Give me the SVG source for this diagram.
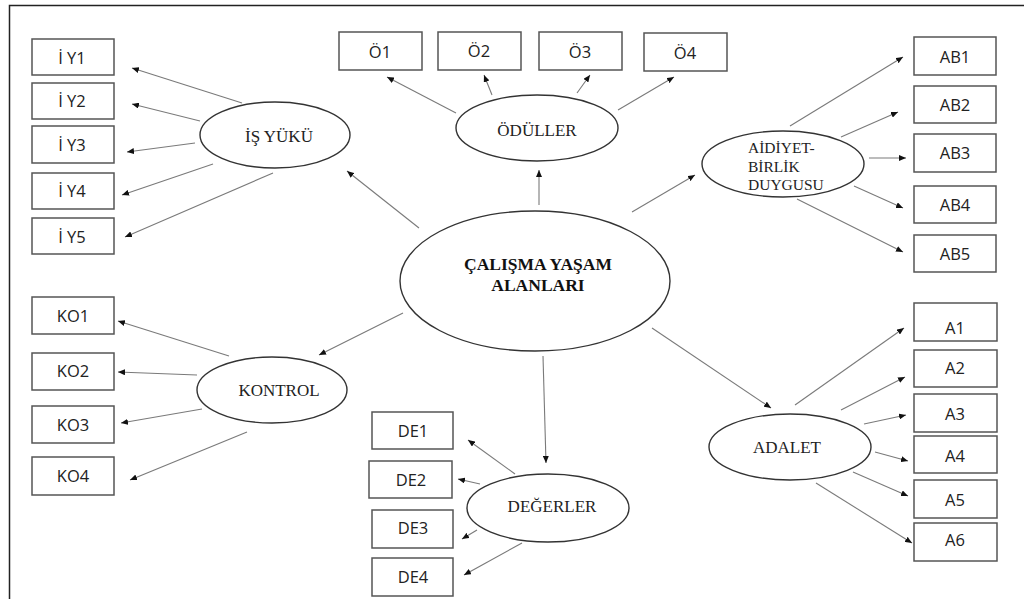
<svg xmlns="http://www.w3.org/2000/svg" width="1024" height="599" viewBox="0 0 1024 599">
  <style>
    .box { fill: #fff; stroke: #555; stroke-width: 1.5; }
    .ell { fill: #fff; stroke: #333; stroke-width: 1.4; }
    .lbl { font-family: "Open Sans", "Liberation Sans", sans-serif; font-size: 16.5px; fill: #222; text-anchor: middle; }
    .fac { font-family: "Liberation Serif", "Times New Roman", serif; font-size: 17px; fill: #222; text-anchor: middle; }
    .fac3 { font-family: "Liberation Serif", "Times New Roman", serif; font-size: 15.5px; fill: #222; }
    .main { font-family: "Liberation Serif", "Times New Roman", serif; font-size: 17.5px; font-weight: bold; fill: #111; text-anchor: middle; }
    .edge { stroke: #7a7a7a; stroke-width: 1.1; fill: none; marker-end: url(#arr); }
    .frame { stroke: #222; stroke-width: 1.5; fill: none; }
  </style>
  <defs>
    <marker id="arr" markerUnits="userSpaceOnUse" markerWidth="8" markerHeight="6" refX="7" refY="3" orient="auto">
      <path d="M0,0 L7,3 L0,6 z" fill="#111"/>
    </marker>
  </defs>

  <rect width="1024" height="599" fill="#fff"/>
  <path class="frame" d="M9.5,599 V5.5 H1024"/>

  <!-- connectors -->
  <g id="connectors">
    <!-- central construct to sub-dimensions -->
    <line class="edge" x1="419" y1="228" x2="347" y2="171"/>
    <line class="edge" x1="539" y1="205" x2="539" y2="170"/>
    <line class="edge" x1="632" y1="212" x2="695" y2="175"/>
    <line class="edge" x1="403" y1="313" x2="319" y2="355"/>
    <line class="edge" x1="543" y1="356" x2="546" y2="463"/>
    <line class="edge" x1="652" y1="328" x2="771" y2="408"/>
    <!-- İŞ YÜKÜ items -->
    <line class="edge" x1="242" y1="103" x2="132" y2="68"/>
    <line class="edge" x1="200" y1="121" x2="132" y2="104"/>
    <line class="edge" x1="195" y1="143" x2="127" y2="152"/>
    <line class="edge" x1="213" y1="164" x2="122" y2="195"/>
    <line class="edge" x1="273" y1="173" x2="125" y2="237"/>
    <!-- ÖDÜLLER items -->
    <line class="edge" x1="456" y1="113" x2="387" y2="77"/>
    <line class="edge" x1="492" y1="95" x2="484" y2="75"/>
    <line class="edge" x1="577" y1="93" x2="590" y2="75"/>
    <line class="edge" x1="618" y1="110" x2="674" y2="77"/>
    <!-- AİDİYET-BİRLİK DUYGUSU items -->
    <line class="edge" x1="790" y1="126" x2="903" y2="57"/>
    <line class="edge" x1="841" y1="137" x2="898" y2="112"/>
    <line class="edge" x1="869" y1="158" x2="906" y2="158"/>
    <line class="edge" x1="854" y1="186" x2="903" y2="208"/>
    <line class="edge" x1="797" y1="199" x2="903" y2="252"/>
    <!-- KONTROL items -->
    <line class="edge" x1="229" y1="356" x2="118" y2="321"/>
    <line class="edge" x1="197" y1="375" x2="118" y2="372"/>
    <line class="edge" x1="202" y1="409" x2="121" y2="423"/>
    <line class="edge" x1="247" y1="432" x2="130" y2="480"/>
    <!-- DEĞERLER items -->
    <line class="edge" x1="515" y1="474" x2="468" y2="440"/>
    <line class="edge" x1="480" y1="484" x2="458" y2="479"/>
    <line class="edge" x1="477" y1="530" x2="462" y2="539"/>
    <line class="edge" x1="522" y1="543" x2="464" y2="575"/>
    <!-- ADALET items -->
    <line class="edge" x1="795" y1="405" x2="904" y2="328"/>
    <line class="edge" x1="841" y1="410" x2="905" y2="377"/>
    <line class="edge" x1="864" y1="424" x2="906" y2="415"/>
    <line class="edge" x1="875" y1="452" x2="908" y2="461"/>
    <line class="edge" x1="853" y1="472" x2="908" y2="496"/>
    <line class="edge" x1="816" y1="483" x2="912" y2="543"/>
  </g>

  <!-- central construct -->
  <g id="calisma">
    <ellipse class="ell" cx="535" cy="281" rx="135" ry="70"/>
    <text class="main" x="538" y="270">ÇALIŞMA YAŞAM</text>
    <text class="main" x="538" y="291">ALANLARI</text>
  </g>

  <!-- sub-dimensions -->
  <g id="isyuku">
    <ellipse class="ell" cx="275" cy="135" rx="75" ry="33"/>
    <text class="fac" x="279" y="142">İŞ YÜKÜ</text>
  </g>
  <g id="oduller">
    <ellipse class="ell" cx="537" cy="128" rx="81" ry="33"/>
    <text class="fac" x="537" y="136">ÖDÜLLER</text>
  </g>
  <g id="aidiyet">
    <ellipse class="ell" cx="783" cy="164" rx="81" ry="33"/>
    <text class="fac3" x="748" y="153">AİDİYET-</text>
    <text class="fac3" x="748" y="172">BİRLİK</text>
    <text class="fac3" x="748" y="190">DUYGUSU</text>
  </g>
  <g id="kontrol">
    <ellipse class="ell" cx="272" cy="390" rx="75" ry="33"/>
    <text class="fac" x="279" y="396">KONTROL</text>
  </g>
  <g id="degerler">
    <ellipse class="ell" cx="548" cy="508" rx="81" ry="34"/>
    <text class="fac" x="552" y="512">DEĞERLER</text>
  </g>
  <g id="adalet">
    <ellipse class="ell" cx="790" cy="447" rx="81" ry="33"/>
    <text class="fac" x="787" y="453">ADALET</text>
  </g>

  <!-- observed items -->
  <g id="iy1"><rect class="box" x="32" y="39" width="82" height="36"/><text class="lbl" x="72" y="64">İ Y1</text></g>
  <g id="iy2"><rect class="box" x="32" y="83" width="82" height="36"/><text class="lbl" x="72" y="107">İ Y2</text></g>
  <g id="iy3"><rect class="box" x="32" y="126" width="82" height="37"/><text class="lbl" x="72" y="151">İ Y3</text></g>
  <g id="iy4"><rect class="box" x="32" y="173" width="82" height="36"/><text class="lbl" x="72" y="197">İ Y4</text></g>
  <g id="iy5"><rect class="box" x="32" y="218" width="82" height="36"/><text class="lbl" x="72" y="243">İ Y5</text></g>

  <g id="o1"><rect class="box" x="339" y="32" width="83" height="38"/><text class="lbl" x="380" y="58">Ö1</text></g>
  <g id="o2"><rect class="box" x="438" y="32" width="83" height="38"/><text class="lbl" x="479" y="57">Ö2</text></g>
  <g id="o3"><rect class="box" x="539" y="32" width="83" height="38"/><text class="lbl" x="580" y="58">Ö3</text></g>
  <g id="o4"><rect class="box" x="644" y="33" width="83" height="38"/><text class="lbl" x="685" y="59">Ö4</text></g>

  <g id="ab1"><rect class="box" x="914" y="37" width="82" height="38"/><text class="lbl" x="955" y="63">AB1</text></g>
  <g id="ab2"><rect class="box" x="914" y="86" width="82" height="37"/><text class="lbl" x="955" y="111">AB2</text></g>
  <g id="ab3"><rect class="box" x="914" y="134" width="82" height="38"/><text class="lbl" x="955" y="159">AB3</text></g>
  <g id="ab4"><rect class="box" x="914" y="186" width="82" height="37"/><text class="lbl" x="955" y="211">AB4</text></g>
  <g id="ab5"><rect class="box" x="914" y="235" width="82" height="37"/><text class="lbl" x="955" y="260">AB5</text></g>

  <g id="ko1"><rect class="box" x="32" y="297" width="82" height="37"/><text class="lbl" x="73" y="322">KO1</text></g>
  <g id="ko2"><rect class="box" x="32" y="353" width="82" height="37"/><text class="lbl" x="73" y="377">KO2</text></g>
  <g id="ko3"><rect class="box" x="32" y="406" width="82" height="37"/><text class="lbl" x="73" y="431">KO3</text></g>
  <g id="ko4"><rect class="box" x="32" y="457" width="82" height="38"/><text class="lbl" x="73" y="482">KO4</text></g>

  <g id="de1"><rect class="box" x="372" y="412" width="81" height="37"/><text class="lbl" x="413" y="437">DE1</text></g>
  <g id="de2"><rect class="box" x="369" y="461" width="83" height="37"/><text class="lbl" x="411" y="486">DE2</text></g>
  <g id="de3"><rect class="box" x="372" y="510" width="81" height="38"/><text class="lbl" x="413" y="534">DE3</text></g>
  <g id="de4"><rect class="box" x="372" y="558" width="81" height="38"/><text class="lbl" x="413" y="583">DE4</text></g>

  <g id="a1"><rect class="box" x="914" y="303" width="83" height="38"/><text class="lbl" x="955" y="334">A1</text></g>
  <g id="a2"><rect class="box" x="914" y="350" width="83" height="37"/><text class="lbl" x="955" y="374">A2</text></g>
  <g id="a3"><rect class="box" x="914" y="394" width="83" height="38"/><text class="lbl" x="955" y="420">A3</text></g>
  <g id="a4"><rect class="box" x="914" y="436" width="83" height="37"/><text class="lbl" x="955" y="462">A4</text></g>
  <g id="a5"><rect class="box" x="914" y="480" width="83" height="38"/><text class="lbl" x="955" y="506">A5</text></g>
  <g id="a6"><rect class="box" x="914" y="523" width="83" height="38"/><text class="lbl" x="955" y="546">A6</text></g>
</svg>
